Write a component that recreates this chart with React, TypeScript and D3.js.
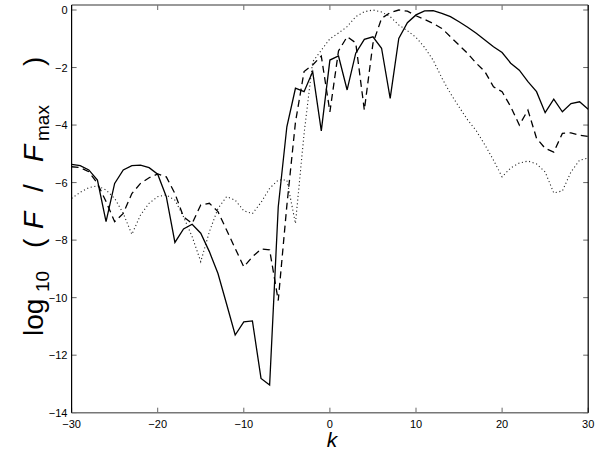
import React from "react";
import * as d3 from "d3";

const kValues = [-30,-29,-28,-27,-26,-25,-24,-23,-22,-21,-20,-19,-18,-17,-16,-15,-14,-13,-12,-11,-10,-9,-8,-7,-6,-5,-4,-3,-2,-1,0,1,2,3,4,5,6,7,8,9,10,11,12,13,14,15,16,17,18,19,20,21,22,23,24,25,26,27,28,29,30];

const solidSeries = [-5.37,-5.41,-5.56,-5.91,-7.36,-6.03,-5.56,-5.41,-5.39,-5.48,-5.71,-6.49,-8.08,-7.61,-7.45,-7.76,-8.4,-9.16,-10.22,-11.3,-10.84,-10.81,-12.81,-13.04,-6.85,-4.06,-2.72,-2.84,-2.14,-4.2,-1.74,-1.6,-2.78,-1.5,-1.02,-0.93,-1.33,-3.07,-0.99,-0.44,-0.17,-0.03,-0.02,-0.12,-0.23,-0.41,-0.6,-0.81,-1.04,-1.28,-1.48,-1.85,-2.09,-2.49,-2.84,-3.57,-3.1,-3.54,-3.25,-3.19,-3.45];

const dashedSeries = [-5.45,-5.48,-5.62,-6.03,-6.66,-7.36,-7.07,-6.38,-6.03,-5.83,-5.7,-5.8,-6.38,-7.19,-7.42,-6.78,-6.72,-7.01,-7.65,-8.29,-8.93,-8.58,-8.31,-8.34,-10.1,-6.8,-3.9,-2.14,-1.91,-1.6,-3.54,-1.42,-0.93,-1.14,-3.48,-1.16,-0.29,-0.09,0,-0.04,-0.2,-0.33,-0.47,-0.64,-0.93,-1.22,-1.51,-1.85,-2.14,-2.67,-2.84,-3.36,-4.0,-3.48,-4.46,-4.81,-4.94,-4.29,-4.27,-4.35,-4.4];

const dottedSeries = [-6.55,-6.34,-6.18,-6.11,-6.26,-6.55,-7.07,-7.8,-7.13,-6.72,-6.49,-6.43,-6.61,-7.19,-7.88,-8.75,-7.71,-6.9,-6.49,-6.61,-6.98,-7.08,-6.69,-6.2,-5.91,-5.91,-7.42,-4.3,-1.8,-1.4,-1.0,-0.8,-0.58,-0.23,-0.06,0,-0.07,-0.23,-0.52,-0.72,-0.95,-1.3,-1.75,-2.36,-2.9,-3.37,-3.82,-4.2,-4.69,-5.22,-5.8,-5.49,-5.32,-5.25,-5.35,-5.63,-6.36,-6.29,-5.63,-5.22,-5.15];

const xTicks = [-30, -20, -10, 0, 10, 20, 30];
const yTicks = [0, -2, -4, -6, -8, -10, -12, -14];

const W = 599;
const H = 455;
const L = 71.6;
const R = 588.2;
const T = 5;
const B = 412.7;

const fmt = (v: number) => (v < 0 ? "\u2212" + Math.abs(v) : String(v));

export default function App() {
  const x = d3.scaleLinear().domain([-30, 30]).range([L, R]);
  const y = d3.scaleLinear().domain([-14, 0.174]).range([B, T]);
  const line = d3
    .line<number>()
    .x((_, i) => x(kValues[i]))
    .y((d) => y(d));

  const font = "'Liberation Sans', Arial, Helvetica, sans-serif";
  const fs = 28;
  const sub = 19;

  return (
    <svg
      width={W}
      height={H}
      style={{ position: "absolute", left: 0, top: 0, background: "#fff" }}
      fontFamily={font}
    >
      <rect x={0} y={0} width={W} height={H} fill="#fff" />
      <defs>
        <clipPath id="plotclip">
          <rect x={L} y={T} width={R - L} height={B - T} />
        </clipPath>
      </defs>
      <g clipPath="url(#plotclip)">
        <path d={line(dottedSeries) || ""} fill="none" stroke="#222" strokeWidth={1.1} strokeDasharray="1.1,2.6" />
        <path d={line(dashedSeries) || ""} fill="none" stroke="#000" strokeWidth={1.3} strokeDasharray="7,4.5" />
        <path d={line(solidSeries) || ""} fill="none" stroke="#000" strokeWidth={1.3} />
      </g>
      {xTicks.map((t) => (
        <g key={"xt" + t}>
          <line x1={x(t)} x2={x(t)} y1={B} y2={B - 5} stroke="#666" strokeWidth={1} />
          <line x1={x(t)} x2={x(t)} y1={T} y2={T + 5} stroke="#666" strokeWidth={1} />
          <text x={x(t)} y={427.5} fontSize={11} textAnchor="middle" fill="#000">
            {fmt(t)}
          </text>
        </g>
      ))}
      {yTicks.map((t) => (
        <g key={"yt" + t}>
          <line x1={L} x2={L + 5} y1={y(t)} y2={y(t)} stroke="#666" strokeWidth={1} />
          <line x1={R} x2={R - 5} y1={y(t)} y2={y(t)} stroke="#666" strokeWidth={1} />
          <text x={67.5} y={y(t) + 4} fontSize={11} textAnchor="end" fill="#000">
            {fmt(t)}
          </text>
        </g>
      ))}
      <line x1={L} x2={R} y1={T} y2={T} stroke="#777" strokeWidth={1.6} />
      <line x1={L} x2={R} y1={B} y2={B} stroke="#777" strokeWidth={1.6} />
      <line x1={L} x2={L} y1={T} y2={B} stroke="#000" strokeWidth={1.2} />
      <line x1={R} x2={R} y1={T} y2={B} stroke="#000" strokeWidth={1.2} />
      <text x={332} y={447} fontSize={21} fontStyle="italic" textAnchor="middle" fill="#000">
        k
      </text>
      <text transform="translate(43,0) rotate(-90)" fontSize={fs} fill="#000">
        <tspan x={-336} y={0}>log</tspan>
        <tspan x={-292} y={6} fontSize={sub}>10</tspan>
        <tspan x={-248} y={0}>(</tspan>
        <tspan x={-229} y={0} fontStyle="italic">F</tspan>
        <tspan x={-192} y={0}>/</tspan>
        <tspan x={-162} y={0} fontStyle="italic">F</tspan>
        <tspan x={-141} y={6} fontSize={sub}>max</tspan>
        <tspan x={-66} y={0}>)</tspan>
      </text>
    </svg>
  );
}
